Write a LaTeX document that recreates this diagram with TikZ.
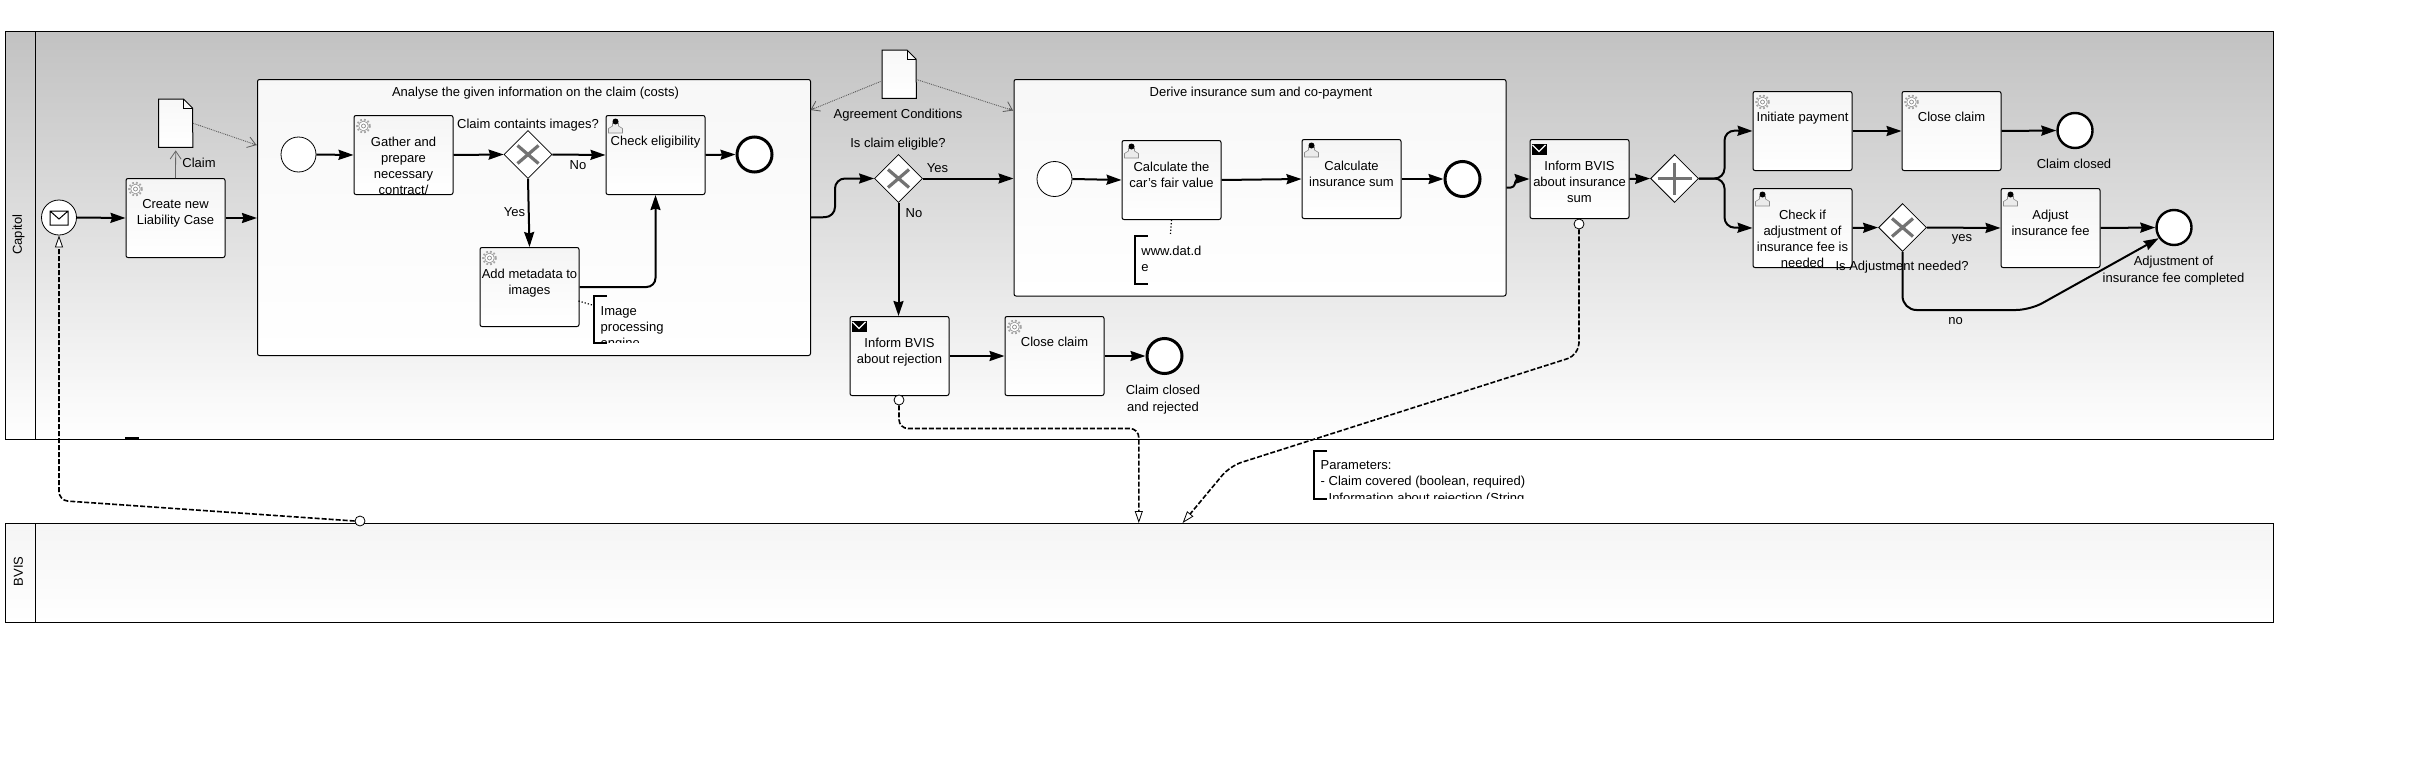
\documentclass[tikz,border=0pt]{standalone}
\usepackage{fontspec}
\setmainfont{Liberation Sans}
\usetikzlibrary{arrows.meta,shapes.geometric,calc}
\newcommand{\lblfont}{\fontsize{13}{16.2}\selectfont}
\tikzset{
  poolbox/.style={draw=black,line width=1pt,top color=#1,bottom color=white},
  taskbox/.style={draw=black,line width=1pt,rounded corners=2pt,top color=black!4,bottom color=white,
     minimum width=99pt,minimum height=79pt,inner sep=0pt,anchor=north west},
  subbox/.style={draw=black,line width=1pt,rounded corners=2pt,top color=black!3,bottom color=white,inner sep=0pt,anchor=north west},
  lbl/.style={font=\lblfont,inner sep=0pt,align=center,anchor=north,yshift=7.3pt,execute at begin node=\strut},
  lbll/.style={font=\lblfont,inner sep=0pt,align=left,anchor=north west,yshift=7.3pt,execute at begin node=\strut},
  gate/.style={diamond,draw=black,line width=.8pt,fill=white,minimum width=48pt,minimum height=48pt,inner sep=0pt,aspect=1},
  evt/.style={circle,draw=black,fill=white,minimum size=35pt,inner sep=0pt,line width=#1},
  flow/.style={line width=2pt,-{Stealth[length=15pt,width=10pt,inset=1.5pt]}},
  msg/.style={line width=1.6pt,dash pattern=on 5pt off 2pt,-{Triangle[open,fill=white,length=12pt,width=8pt,line width=.8pt]}},
  mdot/.style={circle,draw=black,fill=white,line width=.8pt,minimum size=10pt,inner sep=0pt},
  assoc/.style={draw=black!65,line width=.9pt,densely dotted},
  opentip/.style={-{Straight Barb[length=8pt,width=11pt,line width=.8pt]}},
  xmark/.style={draw=black!55,line width=3.2pt},
  annobox/.style={inner sep=0pt,anchor=north west}
}
\newcommand{\gearicon}[1]{\begin{scope}[shift={(#1.north west)}]
  \draw[black!35,line width=1.8pt,dash pattern=on 1.8pt off 2pt] (10,11) circle (6.4);
  \draw[black!40,fill=white,line width=.7pt] (10,11) circle (4.8);
  \draw[black!45,line width=.7pt] (10,11) circle (2);
\end{scope}}
\newcommand{\usericon}[1]{\begin{scope}[shift={(#1.north west)}]
  \draw[black!45,fill=black!8,line width=.6pt] (3,18) -- (3,13.5) -- (7,11) -- (7,8) -- (13,8) -- (13,11) -- (17,13.5) -- (17,18) -- cycle;
  \fill[black] (10,6.5) circle (3);
\end{scope}}
\newcommand{\sendicon}[1]{\begin{scope}[shift={(#1.north west)}]
  \fill[black] (2,4.5) rectangle (17,16);
  \draw[white,line width=1.2pt] (3,6) -- (9.5,12.5) -- (16,6);
\end{scope}}
\newcommand{\tasknode}[6][28.7]{%
  \node[taskbox] (#2) at (#3,#4) {};
  \begin{scope}
    \clip (#2.north west) rectangle (#2.south east);
    \node[lbl] (#2text) at ($(#2.north)+(0,#1)$) {#6};
  \end{scope}
  #5{#2}}
\newcommand{\docnode}[3]{%
  \node[inner sep=0pt,minimum width=34pt,minimum height=48pt,anchor=north west] (#1) at (#2,#3) {};
  \draw[black,line width=1pt,top color=black!3,bottom color=white]
    (#1.north west) -- ++(25,0) -- ++(9,9) -- (#1.south east) -- (#1.south west) -- cycle;
  \draw[black,line width=.6pt] ($(#1.north west)+(25,0)$) -- ++(0,9) -- ++(9,0);}
\newcommand{\annonode}[6]{% name x y w h text
  \node[annobox,minimum width=#4pt,minimum height=#5pt] (#1) at (#2,#3) {};
  \draw[black,line width=2pt] ($(#1.north west)+(13,0)$) -- (#1.north west) -- (#1.south west) -- ($(#1.south west)+(13,0)$);
  \begin{scope}
    \clip ($(#1.north west)+(0,0)$) rectangle ($(#1.south east)+(0,-0.5)$);
    \node[lbll] (#1text) at ($(#1.north west)+(6.5,17.2)$) {#6};
  \end{scope}}
\newcommand{\xgate}[1]{\draw[xmark] ($(#1)+(-10.5,-9)$) -- ($(#1)+(10.5,9)$) ($(#1)+(-10.5,9)$) -- ($(#1)+(10.5,-9)$);}
\newcommand{\pgate}[1]{\draw[xmark] ($(#1)+(-17,0)$) -- ($(#1)+(17,0)$) ($(#1)+(0,-16)$) -- ($(#1)+(0,16)$);}
\begin{document}
\begin{tikzpicture}[x=1pt,y=-1pt]
\useasboundingbox (0,0) rectangle (2430,779);
\fill[white] (0,0) rectangle (2430,779);

% pools
\node[poolbox=black!24,anchor=north west,minimum width=2268pt,minimum height=408pt,inner sep=0pt] (capitol) at (5,31) {};
\draw[black,line width=1pt] (35.5,31) -- (35.5,439);
\node[font=\lblfont,rotate=90,inner sep=0pt] (capitollabel) at (18.5,234.5) {Capitol};
\fill[black] (125,437) rectangle (139,439);
\node[poolbox=black!4,anchor=north west,minimum width=2268pt,minimum height=99pt,inner sep=0pt] (bvis) at (5,523) {};
\draw[black,line width=1pt] (35.5,523) -- (35.5,622);
\node[font=\lblfont,rotate=90,inner sep=0pt] (bvislabel) at (18.5,571.5) {BVIS};

% subprocesses
\node[subbox,minimum width=553pt,minimum height=276pt] (sub1) at (257,79) {};
\node[font=\lblfont,inner sep=0pt] (sub1title) at (535.5,93) {Analyse the given information on the claim (costs)};
\node[subbox,minimum width=492pt,minimum height=216.5pt] (sub2) at (1013.5,79) {};
\node[font=\lblfont,inner sep=0pt] (sub2title) at (1261,93) {Derive insurance sum and co-payment};

% left part
\node[evt=.8pt] (start) at (59,217.5) {};
\draw[black,line width=1pt] (50,211) rectangle (68,225) (50,211) -- (59,219) -- (68,211);
\tasknode{create}{125.5}{178}{\gearicon}{Create new\\Liability Case}
\docnode{claimdoc}{158.5}{99}
\node[font=\lblfont,inner sep=0pt] (claimlabel) at (199,163) {Claim};

% subprocess 1 contents
\node[evt=.8pt] (s1start) at (298.5,154.5) {};
\tasknode{gather}{353.5}{115}{\gearicon}{Gather and\\prepare\\necessary\\contract/}
\node[gate] (g1) at (528,154.5) {};
\xgate{g1}
\tasknode[26.3]{check}{605.5}{115}{\usericon}{Check eligibility}
\node[evt=3pt] (s1end) at (754.5,154.5) {};
\tasknode{meta}{479.5}{247}{\gearicon}{Add metadata to\\images}
\annonode{imgnote}{594}{296}{76}{47}{Image\\processing\\engine}

% subprocess 2 contents
\node[evt=.8pt] (s2start) at (1054.5,179) {};
\tasknode{fair}{1121.5}{140}{\usericon}{Calculate the\\car's fair value}
\tasknode{sum}{1301.5}{139}{\usericon}{Calculate\\insurance sum}
\node[evt=3pt] (s2end) at (1462.5,179) {};
\annonode{datnote}{1134.7}{235.7}{71}{48}{www.dat.d\\e}

% agreement + gateway
\docnode{agree}{882}{50}
\node[font=\lblfont,inner sep=0pt] (agreelabel) at (898,115) {Agreement Conditions};
\node[gate] (g2) at (898.5,178.5) {};
\xgate{g2}
\node[font=\lblfont,inner sep=0pt] (g2label) at (898,144) {Is claim eligible?};

% rejection branch
\tasknode{reject}{849.5}{316}{\sendicon}{Inform BVIS\\about rejection}
\tasknode[26.3]{close1}{1004.5}{316}{\gearicon}{Close claim}
\node[evt=3pt] (e1) at (1164.5,356) {};
\node[lbl] (e1label) at (1163,392.5) {Claim closed\\and rejected};

% right part
\tasknode{inform}{1529.5}{139}{\sendicon}{Inform BVIS\\about insurance\\sum}
\node[gate] (g3) at (1674.5,178.5) {};
\pgate{g3}
\tasknode[26.3]{pay}{1752.5}{91}{\gearicon}{Initiate payment}
\tasknode[26.3]{close2}{1901.5}{91}{\gearicon}{Close claim}
\node[evt=2.4pt] (e2) at (2075,130.5) {};
\node[font=\lblfont,inner sep=0pt] (e2label) at (2074,164) {Claim closed};
\tasknode{adjcheck}{1752.5}{188}{\usericon}{Check if\\adjustment of\\insurance fee is\\needed}
\node[gate] (g4) at (1902.5,227.5) {};
\xgate{g4}
\tasknode{adjust}{2000.5}{188}{\usericon}{Adjust\\insurance fee}
\node[evt=2.4pt] (e3) at (2174,227.5) {};
\node[lbl] (e3label) at (2173.5,263.5) {Adjustment of\\insurance fee completed};

% annotation below the lane
\annonode{paramnote}{1314}{450.7}{216}{48}{Parameters:\\- Claim covered (boolean, required)\\- Information about rejection (String}

% sequence flows
\draw[flow] (start.east) -- (create.west);
\draw[flow] (create.east) -- (sub1.west |- create.east);
\draw[flow] (s1start.east) -- (gather.west);
\draw[flow] (gather.east) -- (g1.west);
\draw[flow] (g1.east) -- (check.west);
\draw[flow] (check.east) -- (s1end.west);
\draw[flow] (g1.south) -- (meta.north);
\draw[flow,rounded corners=9pt] (meta.east) -| (check.south);
\draw[flow,rounded corners=10pt] (sub1.east) -- (835,217) -- (835,178.5) -- (g2.west);
\draw[flow] (g2.east) -- (sub2.west |- g2.east);
\draw[flow] (g2.south) -- (g2.south |- reject.north);
\draw[flow] (s2start.east) -- (fair.west);
\draw[flow] (fair.east) -- (sum.west);
\draw[flow] (sum.east) -- (s2end.west);
\draw[flow,rounded corners=3pt] (sub2.east) -- (1514,187.3) -- (1516,179) -- (inform.west);
\draw[flow] (inform.east) -- (g3.west);
\draw[flow,rounded corners=10pt] (g3.east) -- (1724.5,178.5) -- (1724.5,130.5) -- (pay.west);
\draw[flow,rounded corners=10pt] (g3.east) -- (1724.5,178.5) -- (1724.5,227.5) -- (adjcheck.west);
\draw[flow] (pay.east) -- (close2.west);
\draw[flow] (close2.east) -- (e2.west);
\draw[flow] (adjcheck.east) -- (g4.west);
\draw[flow] (g4.east) -- (adjust.west);
\draw[flow] (adjust.east) -- (e3.west);
\draw[flow,rounded corners=14pt] (g4.south) -- (1902.5,310) -- (2030,310) -- (e3.215);
\draw[flow] (reject.east) -- (close1.west);
\draw[flow] (close1.east) -- (e1.west);

% associations
\draw[draw=black!60,line width=.8pt,opentip] (create.north) -- ($(claimdoc.south)+(0,3)$);
\coordinate (sub1assoc) at (256.5,145);
\draw[assoc] (claimdoc.east) -- (sub1assoc);
\draw[draw=black!65,line width=.8pt,opentip] ($(sub1assoc)+(-3,-1)$) -- (sub1assoc);
\coordinate (a1) at (810.5,110);
\coordinate (a2) at (1013,110.5);
\coordinate (agreeL) at (880.5,81.5);
\coordinate (agreeR) at (916.5,79.5);
\draw[assoc] (agreeL) -- (a1);
\draw[assoc] (agreeR) -- (a2);
\draw[draw=black!65,line width=.8pt,opentip] ($(a1)+(4,-2)$) -- (a1);
\draw[draw=black!65,line width=.8pt,opentip] ($(a2)+(-4,-2)$) -- (a2);

% annotation links
\coordinate (imgend) at (594,305.5);
\coordinate (metaout) at (578.5,301);
\draw[black,line width=1.2pt,dotted] (metaout) -- (imgend);
\draw[black,line width=1.2pt,dotted] (fair.south) -- (datnote.north);

% message flows
\node[mdot] (m1) at (360,521) {};
\draw[msg,rounded corners=9pt] (m1.west) -- (59,500.5) -- (start.south);
\node[mdot] (m2) at (899,400) {};
\coordinate (bvisin1) at (1138.8,523);
\draw[msg,rounded corners=9pt] (m2.south) -- (899,428.5) -- (1138.8,428.5) -- (bvisin1);
\node[mdot] (m3) at (1579,224) {};
\coordinate (bvisin2) at (1182.6,523);
\draw[msg,rounded corners=12pt] (m3.south) -- (1579,355) -- (1230,466) -- (bvisin2);

% text that overlays
\node[font=\lblfont,inner sep=0pt] (g1label) at (528,125) {Claim containts images?};
\node[font=\lblfont,inner sep=0pt] (g1no) at (578,165) {No};
\node[font=\lblfont,inner sep=0pt] (g1yes) at (514.5,212) {Yes};
\node[font=\lblfont,inner sep=0pt] (g2yes) at (937.5,168) {Yes};
\node[font=\lblfont,inner sep=0pt] (g2no) at (914,213) {No};
\node[font=\lblfont,inner sep=0pt] (g4label) at (1902,267.5) {Is Adjustment needed?};
\node[font=\lblfont,inner sep=0pt] (g4yes) at (1962,239) {yes};
\node[font=\lblfont,inner sep=0pt] (g4no) at (1955.5,321) {no};
\end{tikzpicture}
\end{document}
